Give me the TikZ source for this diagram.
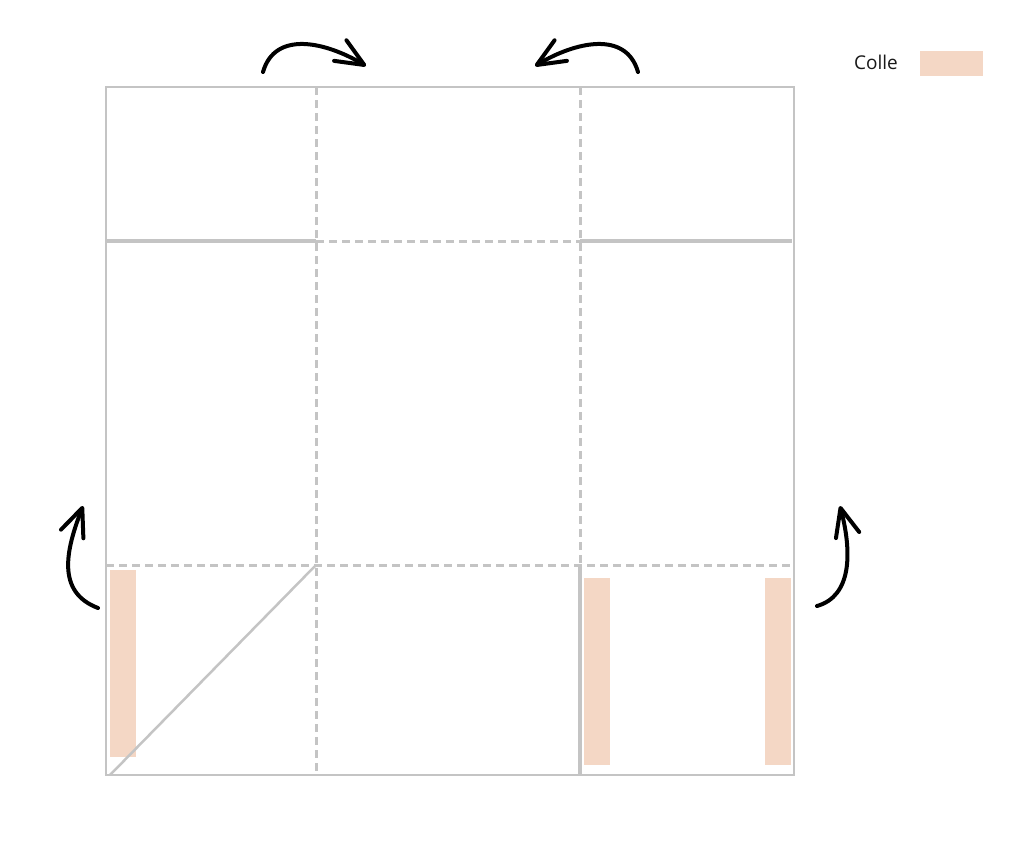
\documentclass[tikz,border=0pt]{standalone}
\usepackage{fontspec}
\setmainfont{Open Sans}
\usetikzlibrary{arrows.meta}
\definecolor{fold}{HTML}{C4C4C4}
\definecolor{glue}{HTML}{F4D7C5}
\tikzset{
  outline/.style={draw=fold, line width=2pt},
  cutline/.style={draw=fold, line width=3.5pt},
  foldline/.style={draw=fold, line width=3pt, dash pattern=on 8pt off 5pt},
  gluebox/.style={fill=glue, draw=none},
  turn/.style={draw=black, line width=4pt, line cap=round,
    -{Straight Barb[length=28pt,width=24pt,line width=4pt,round]}},
}
\begin{document}
\begin{tikzpicture}[x=1pt,y=-1pt]
\useasboundingbox (0,0) rectangle (1024,863);
% glue strips
\fill[glue] (110,570) rectangle (136,757);
\fill[glue] (584,578) rectangle (610,765);
\fill[glue] (765,578) rectangle (791,765);
% fold lines
\draw[foldline] (316,87) -- (316,775);
\draw[foldline] (580,87) -- (580,565);
\draw[foldline] (316,241) -- (580,241);
\draw[foldline] (106,565) -- (794,565);
% cut lines
\draw[cutline] (106,241) -- (316,241);
\draw[cutline] (580,241) -- (792,241);
\draw[cutline] (580,565) -- (580,775);
\draw[outline, line width=2.5pt] (110,775) -- (316,565);
% outer square
\draw[outline] (106,87) rectangle (794,775);
% arrows
\coordinate (a1s) at (263,72); \coordinate (a1e) at (366,66);
\coordinate (a2s) at (638,72); \coordinate (a2e) at (535,66);
\coordinate (a3s) at (98,608); \coordinate (a3e) at (83,506);
\coordinate (a4s) at (817,606); \coordinate (a4e) at (840,506);
\draw[turn] (a1s) .. controls (275,30) and (326,42) .. (a1e);
\draw[turn] (a2s) .. controls (626,30) and (575,42) .. (a2e);
\draw[turn] (a3s) .. controls (56,592) and (66,550) .. (a3e);
\draw[turn] (a4s) .. controls (852,596) and (852,552) .. (a4e);
% legend
\node[font=\fontsize{19}{22}\selectfont, text=black!90] (lbl) at (876,62) {Colle};
\node[gluebox, minimum width=63pt, minimum height=25pt, inner sep=0pt] (key) at (951.5,63.5) {};
\end{tikzpicture}
\end{document}
